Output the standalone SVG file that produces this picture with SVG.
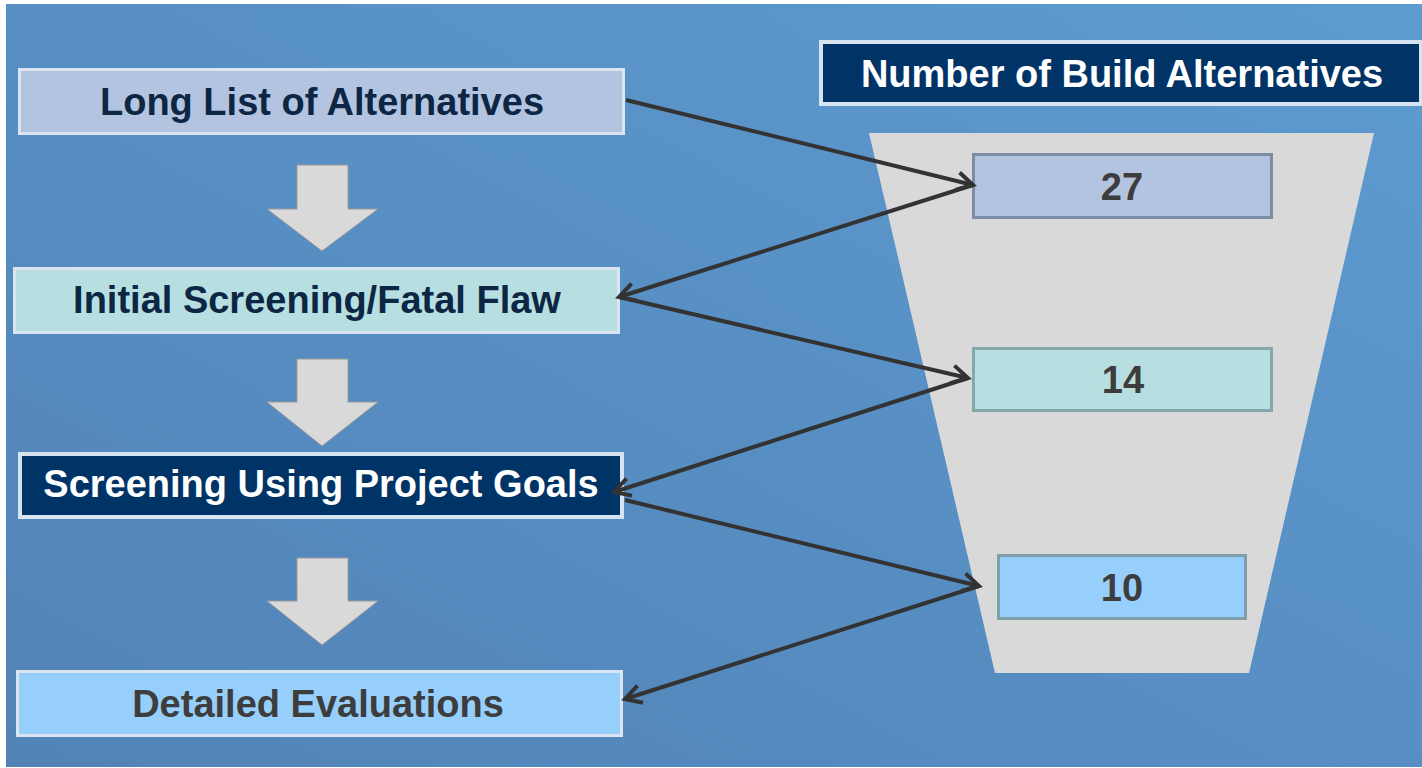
<svg xmlns="http://www.w3.org/2000/svg" width="1422" height="768" viewBox="0 0 1422 768">
  <defs>
    <linearGradient id="bg" x1="0" y1="1" x2="1" y2="0">
      <stop offset="0" stop-color="#5283b6"/>
      <stop offset="1" stop-color="#5d9bd1"/>
    </linearGradient>
    <marker id="chev" viewBox="-20 -12 24 24" refX="0" refY="0" markerWidth="24" markerHeight="24" markerUnits="userSpaceOnUse" orient="auto">
      <path d="M-16,-9 L0,0 L-16,9" fill="none" stroke="#333333" stroke-width="4" stroke-linejoin="miter"/>
    </marker>
    <style>
      text { font-family: "Liberation Sans", Arial, sans-serif; font-weight: bold; font-size: 38px; text-anchor: middle; }
      .lbl-dark { fill: #0c2644; }
      .lbl-gray { fill: #3d3d3d; }
      .lbl-white { fill: #ffffff; }
      .step { stroke: #dbe5f1; stroke-width: 3; }
      .navy { fill: #003366; stroke: #d6e3f0; stroke-width: 4; }
      .num { stroke-width: 3; }
      .down { fill: #d9d9d9; stroke: #9a9a9a; stroke-width: 1; }
      .conn { fill: none; stroke: #333333; stroke-width: 4; marker-end: url(#chev); }
    </style>
  </defs>

  <rect x="0" y="0" width="1422" height="768" fill="#ffffff"/>
  <rect x="6" y="4" width="1416" height="763" fill="url(#bg)"/>

  <polygon id="funnel" points="869,133 1374,133 1249,673 995,673" fill="#d9d9d9"/>

  <g id="node-long-list">
    <rect class="step" x="19.5" y="69.5" width="604" height="64" fill="#b3c4e1"/>
    <text class="lbl-dark" x="322" y="115">Long List of Alternatives</text>
  </g>
  <g id="node-initial">
    <rect class="step" x="14.5" y="268.5" width="604" height="64" fill="#b7dfe2"/>
    <text class="lbl-dark" x="317" y="313">Initial Screening/Fatal Flaw</text>
  </g>
  <g id="node-goals">
    <rect class="navy" x="20" y="454" width="602" height="63"/>
    <text class="lbl-white" x="321" y="497">Screening Using Project Goals</text>
  </g>
  <g id="node-detailed">
    <rect class="step" x="17.5" y="671.5" width="604" height="64" fill="#97cffc"/>
    <text class="lbl-gray" x="318" y="717">Detailed Evaluations</text>
  </g>

  <g id="down-arrows">
    <polygon class="down" points="297,165 348,165 348,209 378,209 322,251 267,209 297,209"/>
    <polygon class="down" points="297,359 348,359 348,402 378,402 322,446 267,402 297,402"/>
    <polygon class="down" points="297,558 348,558 348,601 378,601 322,645 267,601 297,601"/>
  </g>

  <g id="node-header">
    <rect class="navy" x="821" y="42" width="600" height="62"/>
    <text class="lbl-white" x="1122" y="87">Number of Build Alternatives</text>
  </g>
  <g id="node-27">
    <rect class="num" x="973.5" y="154.5" width="298" height="63" fill="#b3c4e1" stroke="#7b8ca4"/>
    <text class="lbl-gray" x="1122" y="200">27</text>
  </g>
  <g id="node-14">
    <rect class="num" x="973.5" y="348.5" width="298" height="62" fill="#b7dfe2" stroke="#84a7aa"/>
    <text class="lbl-gray" x="1123" y="393">14</text>
  </g>
  <g id="node-10">
    <rect class="num" x="998.5" y="555.5" width="247" height="63" fill="#97cffc" stroke="#7fa0a8"/>
    <text class="lbl-gray" x="1122" y="601">10</text>
  </g>

  <g id="connectors">
    <line class="conn" x1="626" y1="100" x2="973" y2="185"/>
    <line class="conn" x1="973" y1="185" x2="619" y2="297"/>
    <line class="conn" x1="619" y1="297" x2="968" y2="378"/>
    <line class="conn" x1="968" y1="378" x2="614" y2="492"/>
    <line class="conn" x1="625" y1="500" x2="979" y2="586"/>
    <line class="conn" x1="979" y1="586" x2="625" y2="699"/>
  </g>
</svg>
